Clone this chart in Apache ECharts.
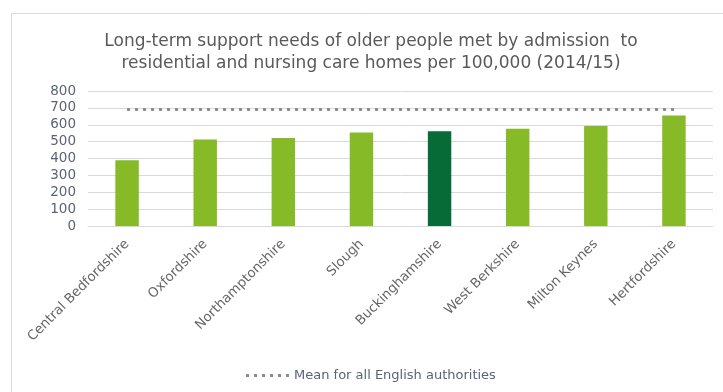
<!DOCTYPE html>
<html>
<head>
<meta charset="utf-8">
<script src="https://cdn.jsdelivr.net/npm/echarts@6/dist/echarts.min.js"></script>
<style>
  html, body { margin: 0; padding: 0; background: #fff; }
  #chart { width: 723px; height: 392px; }
</style>
</head>
<body>
<div id="chart"></div>
<script>
// Local authorities, ordered by rate
const authorities = [
  'Central Bedfordshire', 'Oxfordshire', 'Northamptonshire', 'Slough',
  'Buckinghamshire', 'West Berkshire', 'Milton Keynes', 'Hertfordshire'
];
// Admissions per 100,000 (2014/15)
const admissions = [390, 513, 522, 554, 562, 577, 593, 655];
// Mean for all English authorities, repeated across each category
const englishMean = [690, 690, 690, 690, 690, 690, 690, 690];
// Highlighted authority
const highlight = 'Buckinghamshire';
const yTicks = { min: 0, max: 800, interval: 100 };

const FONT = "'DejaVu Sans', Verdana, sans-serif";
const chart = echarts.init(document.getElementById('chart'), null, { renderer: 'canvas' });

// Six square dots for the legend marker
const dotsIcon = 'path://M0,0h3v3h-3z M8,0h3v3h-3z M16,0h3v3h-3z M24,0h3v3h-3z M32,0h3v3h-3z M40,0h3v3h-3z';

chart.setOption({
  animation: false,
  backgroundColor: '#ffffff',
  graphic: [
    {
      type: 'rect',
      shape: { x: 11.5, y: 13.5, width: 760, height: 420 },
      style: { fill: 'none', stroke: '#d9d9d9', lineWidth: 1 },
      silent: true
    },
    {
      type: 'text',
      x: 371, y: 31,
      style: {
        text: 'Long-term support needs of older people met by admission  to\nresidential and nursing care homes per 100,000 (2014/15)',
        fontSize: 17,
        fontFamily: FONT,
        fill: '#595959',
        align: 'center',
        lineHeight: 22
      }
    }
  ],
  grid: { left: 88, right: 10, top: 91, bottom: 166, containLabel: false },
  legend: {
    bottom: 5,
    left: 241,
    itemWidth: 43,
    itemHeight: 3,
    itemGap: 8,
    textStyle: { color: '#5a6378', fontSize: 13, fontFamily: FONT },
    data: [{ name: 'Mean for all English authorities', icon: dotsIcon }]
  },
  xAxis: {
    type: 'category',
    data: authorities,
    axisLine: { show: true, lineStyle: { color: '#d9d9d9' } },
    axisTick: { show: false },
    axisLabel: {
      rotate: 45,
      interval: 0,
      margin: 16,
      color: '#666666',
      fontSize: 13.3,
      fontFamily: FONT
    }
  },
  yAxis: {
    type: 'value',
    min: yTicks.min,
    max: yTicks.max,
    interval: yTicks.interval,
    axisLine: { show: false },
    axisTick: { show: false },
    splitLine: { lineStyle: { color: '#d9d9d9' } },
    axisLabel: { margin: 12, color: '#5a6378', fontSize: 13.5, fontFamily: FONT }
  },
  series: [
    {
      type: 'bar',
      name: 'Admissions per 100,000',
      barWidth: '30%',
      data: admissions.map((v, i) => ({
        value: v,
        itemStyle: { color: authorities[i] === highlight ? '#066b37' : '#86bb27' }
      }))
    },
    {
      type: 'line',
      name: 'Mean for all English authorities',
      data: englishMean,
      symbol: 'none',
      z: 5,
      itemStyle: { color: '#8c8c8c' },
      lineStyle: { color: '#8c8c8c', width: 3, type: [3, 5], cap: 'butt' }
    }
  ]
});
</script>
</body>
</html>
